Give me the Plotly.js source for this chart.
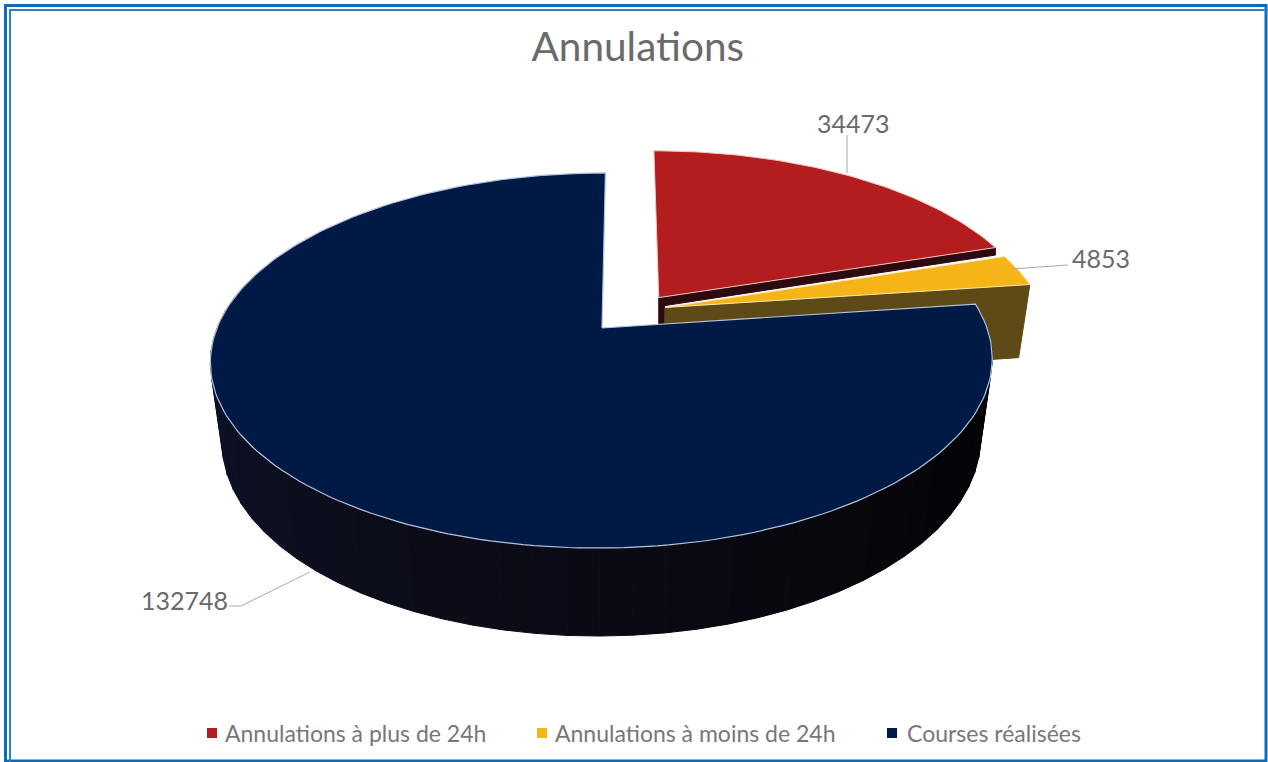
<!DOCTYPE html>
<html><head><meta charset="utf-8">
<script src="https://cdn.plot.ly/plotly-3.0.1.min.js"></script>
<style>html,body{margin:0;padding:0;background:#fff}#c{width:1268px;height:762px}</style>
</head><body><div id="c"></div>
<script>
// ---- chart data ----
const chartTitle = 'Annulations';
const categories = ['Annulations à plus de 24h', 'Annulations à moins de 24h', 'Courses réalisées'];
const values = [34473, 4853, 132748];
const topColors = ['#b41d20', '#f5b518', '#001a45'];
const edgeColors = ['#f3c9bd', '#fbe7b0', '#b4c2dc'];
const sideColors = ['#2c0a10', '#5e4a16', '#0b1130'];
const wallStops = [[11,17,48],[12,16,36],[12,13,26],[9,9,18],[5,5,9],[4,4,8]];
const FONT = 'Lato, "Open Sans", sans-serif';
const GREY = '#6a6a6a';

// ---- projection of the tilted disc on to the page axes ----
const view = {x0:602, y0:328, a:385, b:181.9, c:4, p:0.1733, q:0.03, h:82};
const pull = [[0.15,0.172],[0.166,0.115],[0,0]];
function project(u,v,z){
  const w = 1 + view.p*v + view.q*z;
  return [view.x0 + (view.a*u + view.c*v)/w, view.y0 + (-view.b*v + view.h*z)/w];
}
const total = values.reduce((s,v)=>s+v,0);
let acc = 0;
const spans = values.map(v=>{const s=[acc/total*2*Math.PI,(acc+v)/total*2*Math.PI]; acc+=v; return s;});
function rim(i,t,z){
  return project(Math.sin(t)+pull[i][0], Math.cos(t)+pull[i][1], z);
}
function apex(i,z){ return project(pull[i][0],pull[i][1],z); }
function poly(pts,fill,line,lw){
  const xs=pts.map(p=>p[0]), ys=pts.map(p=>p[1]);
  xs.push(xs[0]); ys.push(ys[0]);
  return {type:'scatter',mode:'lines',x:xs,y:ys,fill:'toself',fillcolor:fill,
          line:{color:line||fill,width:lw===undefined?1:lw},hoverinfo:'skip',showlegend:false};
}
function arc(i,a,b,z,n){const o=[];for(let k=0;k<=n;k++){o.push(rim(i,a+(b-a)*k/n,z));}return o;}
function mix(t){
  const s=t*(wallStops.length-1), k=Math.min(Math.floor(s),wallStops.length-2), f=s-k;
  const c=wallStops[k].map((v,j)=>Math.round(v+(wallStops[k+1][j]-v)*f));
  return 'rgb('+c.join(',')+')';
}
const traces=[];
// red slice: radial side
{
  const A=apex(0,0), E=rim(0,spans[0][1],0);
  traces.push(poly([A,E,[E[0],E[1]+7.5],[A[0]+6,A[1]+8],[A[0]+6,A[1]+32],[A[0],A[1]+32]],sideColors[0]));
}
// yellow slice: radial side
traces.push(poly([apex(1,0),rim(1,spans[1][1],0),rim(1,spans[1][1],0.94),apex(1,0.94)],sideColors[1]));
// yellow & red tops
traces.push(poly([apex(1,0)].concat(arc(1,spans[1][0],spans[1][1],0,12)),topColors[1],edgeColors[1],1));
traces.push(poly([apex(0,0)].concat(arc(0,spans[0][0],spans[0][1],0,60)),topColors[0],edgeColors[0],1));
// navy wall, shaded from the right to the left
{
  const t0=spans[2][0]+0.1, t1=Math.PI*1.6, n=48;
  for(let k=0;k<n;k++){
    const a=t0+(t1-t0)*k/n, b=t0+(t1-t0)*(k+1)/n;
    traces.push(poly([rim(2,a,0),rim(2,b,0),rim(2,b,1),rim(2,a,1)],mix(1-k/(n-1))));
  }
}
// navy top
traces.push(poly([apex(2,0)].concat(arc(2,spans[2][0],spans[2][1],0,200)),topColors[2],edgeColors[2],1.2));

// leader lines
const leaders=[[[847,135],[847,173]],[[1068,265],[1012,269]],[[229,606],[241,606],[310,572]]];
leaders.forEach(l=>traces.push({type:'scatter',mode:'lines',x:l.map(p=>p[0]),y:l.map(p=>p[1]),
  line:{color:'#a8a8a8',width:1},hoverinfo:'skip',showlegend:false}));

// legend row
const legendX=[212,542,892], legendTextX=[223,553,905], legendY=733;
categories.forEach((c,i)=>traces.push({type:'scatter',mode:'markers',x:[legendX[i]],y:[legendY],
  marker:{symbol:'square',size:10,color:topColors[i]},hoverinfo:'skip',showlegend:false}));

const labelPos=[[853,123],[1101,258],[184,600]];
const annotations=values.map((v,i)=>({xref:'x',yref:'y',x:labelPos[i][0],y:labelPos[i][1],text:String(v),showarrow:false,
    xanchor:'center',yanchor:'middle',font:{family:FONT,size:25,color:GREY}}))
  .concat(categories.map((c,i)=>({xref:'x',yref:'y',x:legendTextX[i],y:legendY,text:c,showarrow:false,
    xanchor:'left',yanchor:'middle',font:{family:FONT,size:23,color:'#77777b'}})));

function frame(x0,y0,x1,y1,col,w){return {type:'rect',xref:'x',yref:'y',x0,y0,x1,y1,line:{color:col,width:w},fillcolor:'rgba(0,0,0,0)',layer:'below'};}
const layout={
  width:1268,height:762,margin:{l:0,r:0,t:0,b:0,pad:0},paper_bgcolor:'#fff',plot_bgcolor:'#fff',
  title:{text:chartTitle,x:0.503,xanchor:'center',y:0.939,yanchor:'middle',font:{family:FONT,size:40.5,color:GREY}},
  xaxis:{range:[0,1268],visible:false,fixedrange:true},
  yaxis:{range:[762,0],visible:false,fixedrange:true},
  showlegend:false,
  shapes:[frame(5.5,5.5,1266,761,'#0b6cb8',3),frame(10,10,1290,790,'#2a80c6',2)],
  annotations
};
Plotly.newPlot('c',traces,layout,{displayModeBar:false,staticPlot:true});
</script></body></html>
